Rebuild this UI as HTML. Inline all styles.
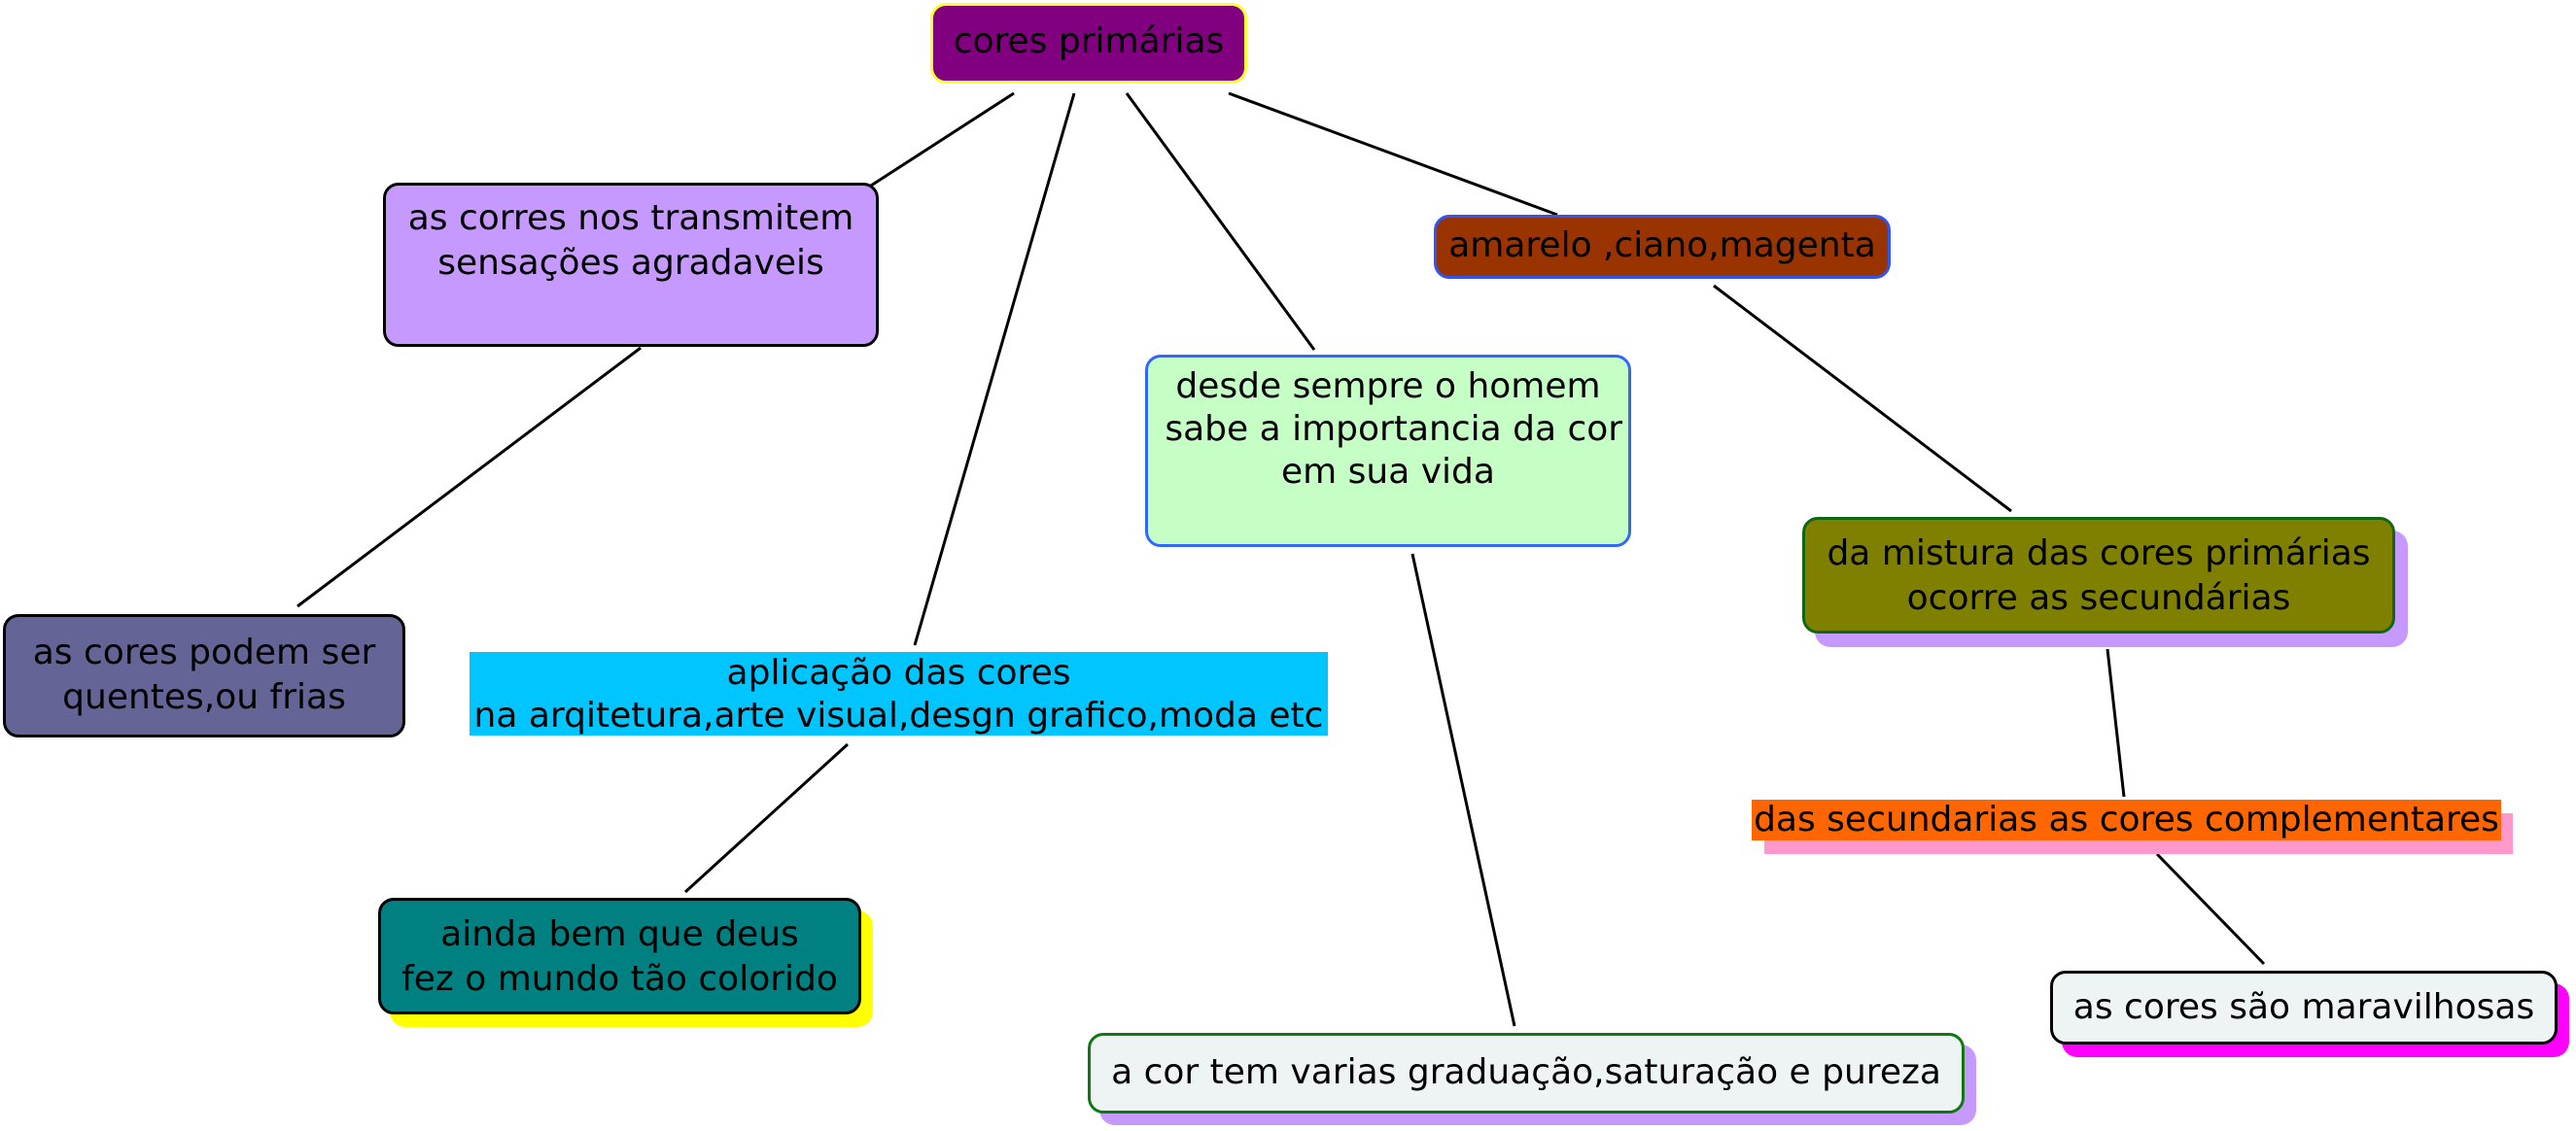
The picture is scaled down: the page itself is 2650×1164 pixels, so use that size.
<!DOCTYPE html>
<html><head><meta charset="utf-8"><style>
body{margin:0;width:2650px;height:1164px;background:#fff;position:relative;overflow:hidden;font-family:"DejaVu Sans","Liberation Sans",sans-serif;}
.b{position:absolute;box-sizing:border-box;border:3px solid #000;border-radius:16px;text-align:center;font-size:36px;line-height:46px;color:#000;white-space:nowrap;}
.s{position:absolute;border-radius:16px;}
svg{position:absolute;left:0;top:0;}
</style></head><body>
<svg width="2650" height="1164" stroke="#000" stroke-width="3">
<line x1="1043" y1="96" x2="896" y2="191"/>
<line x1="1105" y1="96" x2="941" y2="664"/>
<line x1="1159" y1="96" x2="1352" y2="360"/>
<line x1="1264" y1="96" x2="1602" y2="221"/>
<line x1="659" y1="358" x2="306" y2="624"/>
<line x1="872" y1="766" x2="705" y2="918"/>
<line x1="1453" y1="570" x2="1558" y2="1056"/>
<line x1="1763" y1="294" x2="2069" y2="526"/>
<line x1="2168" y1="668" x2="2185" y2="820"/>
<line x1="2219" y1="879" x2="2329" y2="992"/>
</svg>

<div class="b" style="left:957px;top:3px;width:326px;height:83px;background:#800080;border-color:#ffff33;padding-top:14px">cores primárias</div>

<div class="b" style="left:394px;top:188px;width:510px;height:169px;background:#c699ff;padding-top:11px">as corres nos transmitem<br>sensações agradaveis</div>

<div class="b" style="left:1475px;top:221px;width:470px;height:66px;background:#993300;border-color:#3355ee;padding-top:6px">amarelo ,ciano,magenta</div>

<div class="b" style="left:1178px;top:365px;width:500px;height:198px;background:#c6ffc6;border-color:#3366ff;padding-top:8px;line-height:44px">desde sempre o homem<br>&nbsp;sabe a importancia da cor<br>em sua vida</div>

<div class="b" style="left:3px;top:632px;width:414px;height:127px;background:#646496;padding-top:14px">as cores podem ser<br>quentes,ou frias</div>

<div style="position:absolute;left:483px;top:671px;width:883px;height:86px;background:#00c5ff;text-align:center;font-size:36px;line-height:44px;white-space:nowrap">aplicação das cores<br>na arqitetura,arte visual,desgn grafico,moda etc</div>

<div class="s" style="left:1867px;top:546px;width:610px;height:120px;background:#c699ff"></div>
<div class="b" style="left:1854px;top:532px;width:610px;height:120px;background:#808000;border-color:#116611;padding-top:12px">da mistura das cores primárias<br>ocorre as secundárias</div>

<div style="position:absolute;left:1815px;top:837px;width:770px;height:42px;background:#ff99cc"></div>
<div style="position:absolute;left:1802px;top:823px;width:771px;height:42px;background:#ff6600;text-align:center;font-size:36px;line-height:42px;white-space:nowrap">das secundarias as cores complementares</div>

<div class="s" style="left:401px;top:937px;width:497px;height:120px;background:#ffff00"></div>
<div class="b" style="left:389px;top:924px;width:497px;height:120px;background:#008080;padding-top:12px">ainda bem que deus<br>fez o mundo tão colorido</div>

<div class="s" style="left:1131px;top:1075px;width:902px;height:83px;background:#c699ff"></div>
<div class="b" style="left:1119px;top:1063px;width:902px;height:83px;background:#eef4f4;border-color:#117711;padding-top:15px">a cor tem varias graduação,saturação e pureza</div>

<div class="s" style="left:2121px;top:1012px;width:522px;height:76px;background:#ff00ff"></div>
<div class="b" style="left:2109px;top:999px;width:522px;height:76px;background:#eef4f4;padding-top:12px">as cores são maravilhosas</div>
</body></html>
